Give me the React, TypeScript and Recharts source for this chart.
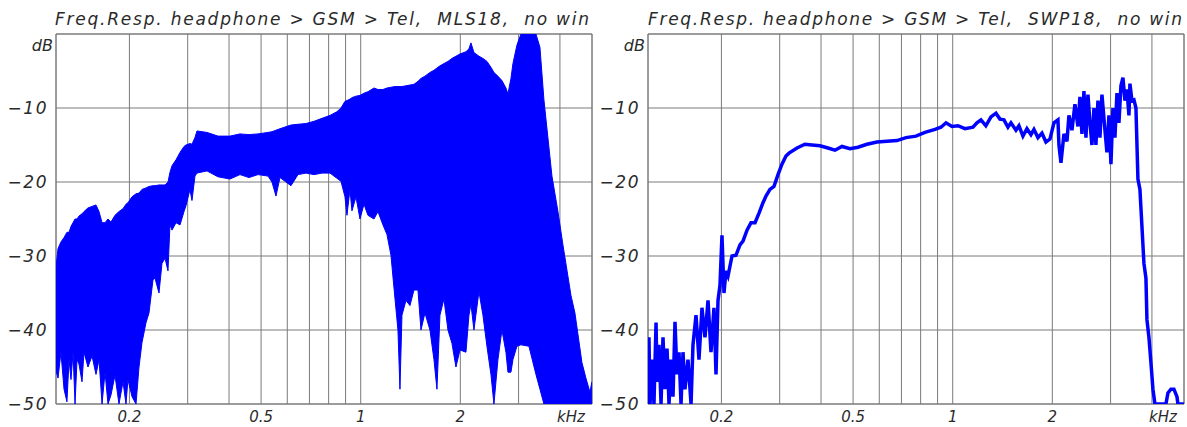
import { AreaChart, Area, LineChart, Line, XAxis, YAxis, CartesianGrid, ReferenceArea } from "recharts"

// MLS18 measurement: dense noise band, kept as upper / lower envelope (kHz, dB)
const mlsFreq = [
  0.12, 0.1217, 0.1242, 0.1269, 0.1295, 0.1314, 0.1332, 0.1351, 0.137, 0.1389, 0.1408, 0.1438, 0.1458, 0.1499,
  0.1542, 0.1585, 0.1619, 0.1653, 0.1688, 0.1723, 0.1759, 0.1809, 0.186, 0.1913, 0.1953, 0.198, 0.2036, 0.2094,
  0.2138, 0.2183, 0.2245, 0.2292, 0.2357, 0.239, 0.2457, 0.2509, 0.2562, 0.2616, 0.2652, 0.269, 0.2766, 0.2844,
  0.2924, 0.2965, 0.3048, 0.3091, 0.3156, 0.3201, 0.3431, 0.3704, 0.4027, 0.4317, 0.4596, 0.4893, 0.5245, 0.5393,
  0.5546, 0.5702, 0.6156, 0.6463, 0.6833, 0.7224, 0.7637, 0.8075, 0.8477, 0.8717, 0.8963, 0.9088, 0.928, 0.941,
  0.9676, 0.9949, 1.0229, 1.0518, 1.0967, 1.1276, 1.1675, 1.2004, 1.2343, 1.2691, 1.2959, 1.3141, 1.3325, 1.3701,
  1.4088, 1.4485, 1.4894, 1.5208, 1.5637, 1.6191, 1.6648, 1.6999, 1.7357, 1.7847, 1.8352, 1.8869, 1.9402, 1.995,
  2.08, 2.1239, 2.1536, 2.199, 2.2768, 2.341, 2.4072, 2.4751, 2.5273, 2.5986, 2.6719, 2.7474, 2.7859, 2.8447,
  2.8845, 2.9659, 3.0496, 3.2241, 3.385, 3.4805, 3.5787, 3.7836, 3.9449, 4.0845, 4.3183, 4.4402, 4.6618, 4.7934,
  4.9287, 4.9977,
]
const mlsHigh = [
  -31.5, -29, -28.1, -27.5, -26.8, -26.8, -26, -25.5, -25, -25, -24.6, -24.3, -24, -23.5,
  -23.3, -23.1, -24, -25.5, -25.5, -25, -25.4, -24.5, -24, -23.6, -23, -22.8, -22, -21.6,
  -21.5, -21, -20.8, -20.6, -20.5, -20.5, -20.4, -20.4, -20.4, -20, -18.7, -17.8, -17, -16,
  -15.2, -15, -14.8, -14.9, -14, -13.1, -13.3, -13.8, -13.8, -13.5, -13.6, -13.5, -13.3, -13.2,
  -13, -12.8, -12.3, -12.2, -12.1, -11.8, -11.4, -11, -10.5, -10, -9.1, -9, -8.8, -8.6,
  -8.4, -8.3, -8, -7.8, -7.3, -7.5, -7.5, -7.3, -7.2, -7.1, -7.1, -7.1, -7.1, -7,
  -6.9, -6.8, -6.4, -6, -5.7, -5.2, -4.9, -4.6, -4.3, -4, -3.7, -3.3, -3, -2.7,
  -2.4, -2, -1.2, -2.5, -3, -3.3, -3.7, -4.5, -5.2, -5.7, -6.3, -7.3, -8.1, -6,
  -4, -1.5, 0, 0, 0, -1.8, -8.9, -19.2, -24, -28.5, -35.3, -37.7, -44.4, -46.5,
  -48.4, -47,
]
const mlsLow = [
  -45.5, -46.5, -43, -48, -49.7, -44, -46.7, -43, -50, -44, -44.6, -47, -43, -45,
  -43.5, -46, -44, -50, -45.7, -50, -48.8, -46.1, -50, -47, -50, -46.7, -49, -50,
  -45, -41.7, -39, -37.7, -33.2, -33, -35, -31, -30.3, -32, -25.8, -26.5, -25.5, -25.8,
  -24, -23.2, -21, -22.5, -19.2, -18.8, -18.5, -19.3, -19.6, -19, -19.4, -19, -19.2, -20,
  -21.9, -19.4, -20.5, -19, -18.8, -19, -18.8, -18.8, -19.5, -19.9, -22, -24.5, -21, -23.9,
  -22, -25, -23, -24.5, -25, -24, -25.8, -27.1, -29.9, -35.7, -40, -48, -38, -36,
  -36.7, -34.6, -34.6, -40, -37.7, -40, -44, -48, -38, -35.8, -40, -41.8, -45, -42.7,
  -43, -38, -36.5, -40, -34.8, -38, -42.2, -46, -50, -44, -40, -43, -45.7, -45.7,
  -44, -42.2, -42, -42.2, -46, -48, -50, -50, -50, -50, -50, -50, -50, -50,
  -50, -50,
]

// SWP18 measurement: single trace (kHz, dB)
const swpFreq = [
  0.12, 0.1208, 0.1217, 0.1234, 0.1251, 0.1269, 0.1278, 0.1295, 0.1314, 0.1332, 0.1351, 0.137, 0.1389, 0.1408,
  0.1428, 0.1448, 0.1468, 0.1489, 0.151, 0.1531, 0.1552, 0.1585, 0.1619, 0.1641, 0.1676, 0.1711, 0.1747, 0.1784,
  0.1822, 0.186, 0.1899, 0.1926, 0.1953, 0.198, 0.2008, 0.2036, 0.2065, 0.2094, 0.2153, 0.2213, 0.2276, 0.2324,
  0.239, 0.2457, 0.2527, 0.2598, 0.2671, 0.2727, 0.2804, 0.2883, 0.2965, 0.3048, 0.3134, 0.3201, 0.3384, 0.3576,
  0.3756, 0.3971, 0.4198, 0.4408, 0.4628, 0.4893, 0.5173, 0.5507, 0.5904, 0.6329, 0.6785, 0.7224, 0.7745, 0.8246,
  0.8841, 0.9215, 0.9546, 0.9949, 1.0373, 1.089, 1.1511, 1.1838, 1.2172, 1.2596, 1.305, 1.3511, 1.3893, 1.4285,
  1.4688, 1.4998, 1.5529, 1.5857, 1.6304, 1.6765, 1.7237, 1.7601, 1.8098, 1.8609, 1.9134, 1.9674, 2.0229, 2.08,
  2.0945, 2.1239, 2.1687, 2.2144, 2.2454, 2.2927, 2.341, 2.3905, 2.424, 2.458, 2.4924, 2.5273, 2.5627, 2.5986,
  2.635, 2.6719, 2.7093, 2.7474, 2.7859, 2.8249, 2.8845, 2.9246, 2.9659, 3.0075, 3.0496, 3.0921, 3.1356, 3.1795,
  3.2241, 3.2692, 3.315, 3.3615, 3.4086, 3.4324, 3.4805, 3.5293, 3.5787, 3.6289, 3.6797, 3.7313, 3.7836, 3.8366,
  3.8634, 3.9176, 3.9724, 4.0281, 4.0845, 4.409, 4.4712, 4.5655, 4.6618, 4.7602, 4.7934, 4.9977,
]
const swpLevel = [
  -50, -41, -50, -44, -50, -39, -47, -42, -50, -41, -48, -42.5, -50, -44,
  -49, -38.9, -46, -43, -50, -43, -48, -44, -50, -42, -38, -44, -37, -41,
  -36, -43, -37, -46, -36, -34, -27.2, -35, -32, -32.7, -30, -29.9, -28.5, -28,
  -26.5, -25.5, -25.5, -24.2, -22.8, -21.9, -21, -20.6, -19, -17.6, -16.5, -16.1, -15.4, -14.9,
  -15, -15.1, -15.4, -15.7, -15.2, -15.5, -15.3, -14.9, -14.6, -14.5, -14.4, -14, -13.8, -13.3,
  -12.9, -12.6, -12, -12.5, -12.4, -12.8, -12.6, -12, -11.6, -12.4, -11.2, -10.7, -11.5, -11.6,
  -12.6, -12, -13, -12.4, -13.8, -12.8, -13.6, -12.9, -14, -13.4, -14.6, -14.2, -12, -11.6,
  -15, -17.4, -13.5, -14.5, -11, -13, -9.5, -12.5, -8.5, -13.5, -7.7, -14, -8.2, -12,
  -15, -10, -15, -9, -14, -8.2, -13, -16, -11, -17.6, -10, -14, -8, -12,
  -7, -5.9, -9, -7.5, -11, -6.7, -9, -8.9, -10, -19.6, -21, -26, -31, -33,
  -38.6, -41, -44.4, -48, -50, -50, -48.5, -48, -48, -49, -50, -50,
]

const freqTicks = [0.2, 0.3, 0.4, 0.5, 0.6, 0.7, 0.8, 0.9, 1, 2, 3, 4]
const freqLabels: Record<number, string> = { 0.2: "0.2", 0.5: "0.5", 1: "1", 2: "2", 4: "kHz" }
const dbTicks = [-50, -40, -30, -20, -10, 0]

const mlsData = mlsFreq.map((f, i) => ({ f, band: [mlsLow[i], mlsHigh[i]] }))
const swpData = swpFreq.map((f, i) => ({ f, db: swpLevel[i] }))

const BLUE = "#0000ff"
const GRID = "#7a7a7a"
const INK = "#2a2a2a"
const FONT = "'DejaVu Sans', sans-serif"

function FreqTick({ x, y, payload }: any) {
  const label = freqLabels[payload.value]
  if (!label) return null
  const shift = payload.value === 4 ? 11 : 0
  return (
    <text x={x + shift} y={y + 10} textAnchor="middle" fill={INK} fontFamily={FONT} fontStyle="italic" fontSize={15}>
      {label}
    </text>
  )
}

function DbTick({ x, y, payload }: any) {
  if (payload.value === 0) {
    return (
      <text x={x + 5} y={y + 17} textAnchor="end" fill={INK} fontFamily={FONT} fontStyle="italic" fontSize={16}>
        dB
      </text>
    )
  }
  return (
    <text
      x={x}
      y={y}
      dy="0.36em"
      textAnchor="end"
      fill={INK}
      fontFamily={FONT}
      fontStyle="italic"
      fontSize={17}
      letterSpacing={1.5}
    >
      {"\u2212" + Math.abs(payload.value)}
    </text>
  )
}

const W = 596
const H = 427
const margin = { top: 34, right: 4, bottom: 0, left: 0 }

function Title({ x, text }: { x: number; text: string }) {
  return (
    <text
      x={x}
      y={25}
      textLength={534}
      lengthAdjust="spacing"
      fill={INK}
      fontFamily={FONT}
      fontStyle="italic"
      fontSize={17}
      style={{ whiteSpace: "pre" }}
    >
      {text}
    </text>
  )
}

export default function App() {
  const xAxis = (
    <XAxis
      dataKey="f"
      type="number"
      scale="log"
      domain={[0.12, 5]}
      ticks={freqTicks}
      allowDataOverflow
      tickLine={false}
      axisLine={false}
      height={23}
      tick={<FreqTick />}
      interval={0}
    />
  )
  const yAxis = (
    <YAxis
      type="number"
      domain={[-50, 0]}
      ticks={dbTicks}
      allowDataOverflow
      tickLine={false}
      axisLine={false}
      width={56}
      tick={<DbTick />}
      interval={0}
    />
  )
  return (
    <div style={{ position: "absolute", left: 0, top: 0, width: 1187, height: 427, overflow: "hidden", background: "#fff" }}>
      <div style={{ position: "absolute", left: 0, top: 0 }}>
        <AreaChart width={W} height={H} data={mlsData} margin={margin}>
          <CartesianGrid stroke={GRID} strokeWidth={1} />
          {xAxis}
          {yAxis}
          <ReferenceArea x1={0.12} x2={5} y1={-50} y2={0} fill="none" stroke={GRID} ifOverflow="visible" />
          <Area
            type="linear"
            dataKey="band"
            stroke={BLUE}
            strokeWidth={1}
            fill={BLUE}
            fillOpacity={1}
            isAnimationActive={false}
          />
        </AreaChart>
      </div>
      <div style={{ position: "absolute", left: 592, top: 0 }}>
        <LineChart width={W} height={H} data={swpData} margin={margin}>
          <CartesianGrid stroke={GRID} strokeWidth={1} />
          {xAxis}
          {yAxis}
          <ReferenceArea x1={0.12} x2={5} y1={-50} y2={0} fill="none" stroke={GRID} ifOverflow="visible" />
          <Line type="linear" dataKey="db" stroke={BLUE} strokeWidth={3.5} dot={false} isAnimationActive={false} />
        </LineChart>
      </div>
      <svg width={1187} height={34} style={{ position: "absolute", left: 0, top: 0 }}>
        <Title x={55} text="Freq.Resp. headphone > GSM > Tel,  MLS18,  no win" />
        <Title x={648} text="Freq.Resp. headphone > GSM > Tel,  SWP18,  no win" />
      </svg>
    </div>
  )
}
